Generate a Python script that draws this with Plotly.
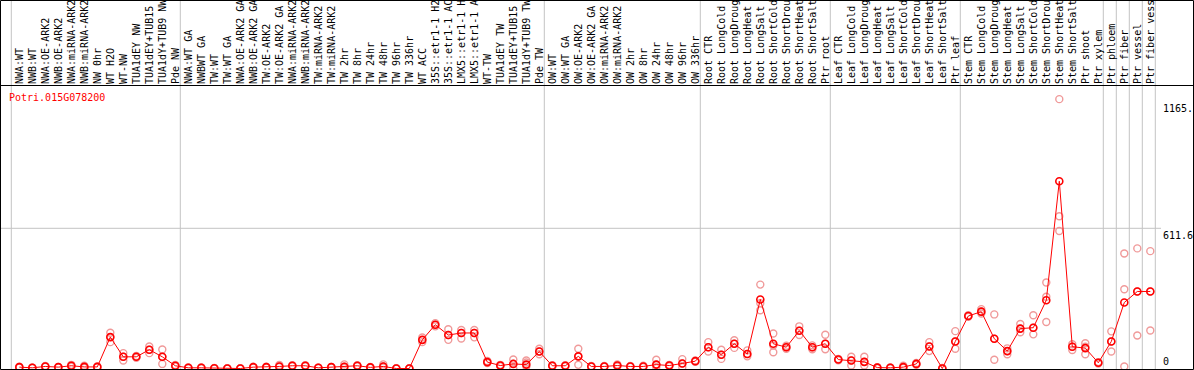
import plotly.graph_objects as go

labels = [
    "NWA:WT", "NWB:WT", "NWA:OE-ARK2", "NWB:OE-ARK2", "NWA:miRNA-ARK2", "NWB:miRNA-ARK2",
    "NW 0hr", "WT H2O", "WT-NW", "TUA1dEY NW", "TUA1dEY+TUB15", "TUA1dY+TUB9 NW", "Pde NW",
    "NWA:WT GA", "NWBWT GA", "TW:WT", "TW:WT GA", "NWA:OE-ARK2 GA", "NWB:OE-ARK2 GA",
    "TW:OE-ARK2", "TW:OE-ARK2 GA", "NWA:miRNA-ARK2", "NWB:miRNA-ARK2", "TW:miRNA-ARK2",
    "TW:miRNA-ARK2", "TW 2hr", "TW 8hr", "TW 24hr", "TW 48hr", "TW 96hr", "TW 336hr", "WT ACC",
    "35S::etr1-1 H2O", "35S::etr1-1 ACC", "LMX5::etr1-1 H2O", "LMX5::etr1-1 ACC", "WT-TW",
    "TUA1dEY TW", "TUA1dEY+TUB15", "TUA1dY+TUB9 TW", "Pde TW",
    "OW:WT", "OW:WT GA", "OW:OE-ARK2", "OW:OE-ARK2 GA", "OW:miRNA-ARK2", "OW:miRNA-ARK2",
    "OW 2hr", "OW 8hr", "OW 24hr", "OW 48hr", "OW 96hr", "OW 336hr",
    "Root CTR", "Root LongCold", "Root LongDrought", "Root LongHeat", "Root LongSalt",
    "Root ShortCold", "Root ShortDrought", "Root ShortHeat", "Root ShortSalt", "Ptr root",
    "Leaf CTR", "Leaf LongCold", "Leaf LongDrought", "Leaf LongHeat", "Leaf LongSalt",
    "Leaf ShortCold", "Leaf ShortDrought", "Leaf ShortHeat", "Leaf ShortSalt", "Ptr leaf",
    "Stem CTR", "Stem LongCold", "Stem LongDrought", "Stem LongHeat", "Stem LongSalt",
    "Stem ShortCold", "Stem ShortDrought", "Stem ShortHeat", "Stem ShortSalt",
    "Ptr shoot", "Ptr xylem", "Ptr phloem", "Ptr fiber", "Ptr vessel", "Ptr fiber vessel",
]

group_sizes = [13, 28, 12, 10, 10, 11, 1, 1, 1, 1]

mean_values = [
    6, 3, 9, 6, 12, 7, 7, 137, 51, 51, 82, 51, 12,
    3, 3, 1, 0, 0, 6, 6, 9, 12, 12, 3, 6, 8, 12, 5, 9, 0, 0, 125, 191, 146, 155, 155,
    28, 13, 20, 17, 74,
    12, 12, 53, 9, 9, 13, 9, 9, 17, 13, 22, 32,
    93, 60, 108, 63, 301, 108, 93, 165, 93, 108,
    39, 35, 29, 4, 3, 6, 20, 96, 0, 118,
    229, 248, 130, 76, 174, 178, 298, 817, 95, 89, 25,
    118, 288, 336, 336,
]

replicates = [
    [6, 4, 8], [3, 2, 4], [9, 7, 11], [6, 5, 7], [16, 12, 8], [12, 7, 3], [7, 5, 9],
    [156, 137, 115], [67, 51, 35], [55, 51, 47], [96, 82, 67], [83, 50, 20], [12, 15, 9],
    [3, 5, 1], [3, 1, 5], [1, 2, 0], [0, 0, 1], [0, 1, 0], [6, 4, 8], [6, 8, 4],
    [9, 15, 6], [12, 14, 10], [12, 10, 14], [3, 4, 2], [6, 5, 7], [8, 18, 3], [12, 14, 10],
    [5, 7, 3], [9, 18, 4], [0, 1, 0], [0, 0, 1], [125, 135, 115], [191, 198, 184],
    [171, 146, 125], [168, 155, 131], [168, 155, 136], [28, 33, 24], [13, 16, 10],
    [39, 20, 0], [35, 26, 9], [86, 74, 62],
    [12, 14, 10], [12, 10, 14], [86, 53, 16], [9, 11, 7], [9, 7, 11], [13, 18, 9],
    [9, 11, 7], [9, 12, 6], [38, 17, 5], [13, 16, 10], [41, 22, 6], [32, 35, 29],
    [115, 93, 74], [82, 60, 42], [123, 108, 90], [79, 63, 53], [366, 285, 254],
    [153, 100, 71], [99, 93, 86], [184, 165, 146], [101, 93, 84], [147, 108, 84],
    [39, 42, 36], [51, 35, 13], [51, 29, 13], [4, 6, 2], [3, 5, 1], [6, 12, 3],
    [20, 24, 16], [115, 96, 76], [0, 2, 0], [163, 118, 86],
    [229, 232, 226], [259, 248, 240], [236, 130, 38], [88, 76, 62], [194, 174, 158],
    [232, 178, 149], [375, 313, 203], [1175, 664, 600], [106, 95, 81], [110, 95, 62],
    [25, 28, 22], [162, 118, 74], [502, 346, 9], [524, 336, 144], [512, 336, 166],
]

gene_id = "Potri.015G078200"
y_tick_values = [0, 611.6, 1165]
y_tick_text = ["0", "611.6", "1165."]

W, H, TOP = 1194, 370, 85
PLOT_H = H - TOP
MONO = "DejaVu Sans Mono"

x_idx = list(range(len(labels)))
rep_x, rep_y = [], []
for i, reps in enumerate(replicates):
    for v in reps:
        rep_x.append(i)
        rep_y.append(v)

fig = go.Figure()
fig.add_trace(go.Scatter(
    x=rep_x, y=rep_y, mode="markers",
    marker=dict(symbol="circle-open", size=7, color="#f09a9a", line=dict(width=1.4)),
    hoverinfo="skip", showlegend=False, cliponaxis=False,
))
fig.add_trace(go.Scatter(
    x=x_idx, y=mean_values, mode="lines+markers",
    line=dict(color="#ff0000", width=1),
    marker=dict(symbol="circle-open", size=7, color="#ff0000", line=dict(width=1.6)),
    showlegend=False, cliponaxis=False,
))


def px_x(px):
    return px / W


def px_y(py):
    return (H - py) / PLOT_H


shapes = []
start = 0
bounds = [0]
for s in group_sizes:
    start += s
    bounds.append(start)
for b in bounds:
    shapes.append(dict(type="line", xref="x", yref="paper", x0=b - 0.615, x1=b - 0.615,
                       y0=0, y1=px_y(0), line=dict(color="#c4c4c4", width=1), layer="below"))
shapes.append(dict(type="line", xref="paper", yref="y", x0=0, x1=px_x(1161),
                   y0=y_tick_values[1], y1=y_tick_values[1],
                   line=dict(color="#c4c4c4", width=1), layer="below"))
shapes.append(dict(type="rect", xref="paper", yref="paper", x0=px_x(0.5), x1=px_x(1193.5),
                   y0=px_y(369.5), y1=px_y(0.5), line=dict(color="black", width=1)))
shapes.append(dict(type="line", xref="paper", yref="paper", x0=px_x(0.5), x1=px_x(1193.5),
                   y0=px_y(85.5), y1=px_y(85.5), line=dict(color="black", width=1)))

annotations = [
    dict(text=gene_id, xref="paper", yref="paper", x=px_x(7), y=px_y(97),
         xanchor="left", yanchor="middle", showarrow=False,
         font=dict(family=MONO, size=10, color="#ff0000")),
]
for v, t in zip(y_tick_values, y_tick_text):
    annotations.append(dict(text=t, xref="paper", yref="y", x=px_x(1161), y=v,
                            xanchor="left", yanchor="bottom" if v == 0 else "top",
                            showarrow=False,
                            font=dict(family=MONO, size=10, color="black")))

fig.update_layout(
    width=W, height=H,
    margin=dict(l=0, r=0, t=TOP, b=0, pad=0, autoexpand=False),
    paper_bgcolor="white", plot_bgcolor="white",
    xaxis=dict(range=[-1.4846, 90.3615], tickmode="array", tickvals=x_idx, ticktext=labels,
               side="top", tickangle=-90, ticks="", showgrid=False, zeroline=False,
               showline=False, automargin=False,
               tickfont=dict(family=MONO, size=10, color="black")),
    yaxis=dict(range=[-6.5, 1236.7], showticklabels=False, showgrid=False, zeroline=False,
               showline=False, automargin=False),
    shapes=shapes,
    annotations=annotations,
)

fig.write_html("out.html", config={"displayModeBar": False},
               post_script="document.body.style.margin='0';document.body.style.overflow='hidden';")
